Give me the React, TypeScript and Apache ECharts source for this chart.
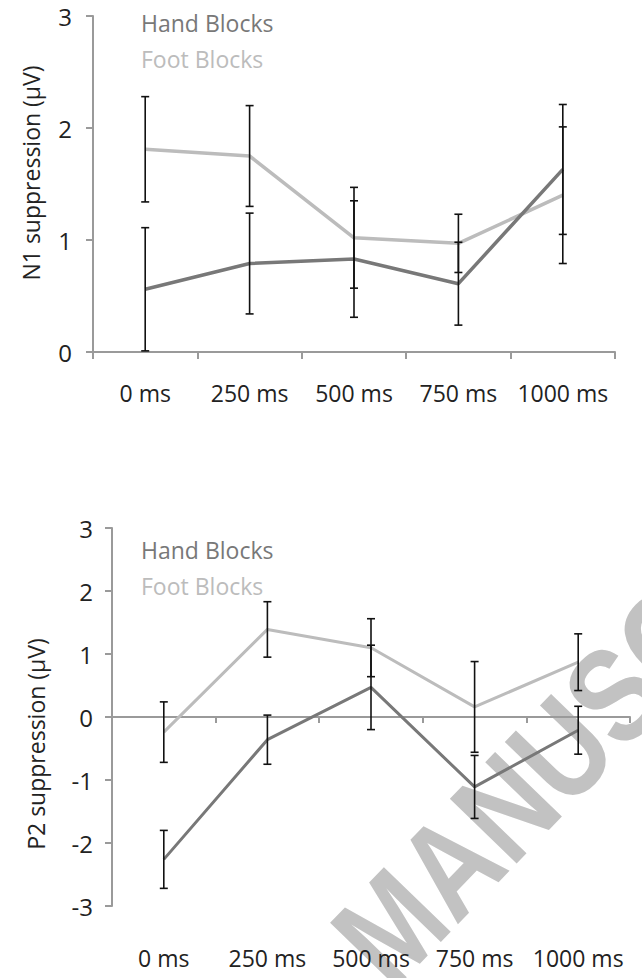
import React, { useEffect, useRef } from "react";
import * as echarts from "echarts";

const categories = ["0 ms", "250 ms", "500 ms", "750 ms", "1000 ms"];

const n1Hand = [0.56, 0.79, 0.83, 0.61, 1.63];
const n1HandErr = [0.55, 0.45, 0.52, 0.37, 0.58];
const n1Foot = [1.81, 1.75, 1.02, 0.97, 1.4];
const n1FootErr = [0.47, 0.45, 0.45, 0.26, 0.61];

const p2Hand = [-2.26, -0.36, 0.47, -1.11, -0.21];
const p2HandErr = [0.46, 0.39, 0.67, 0.5, 0.38];
const p2Foot = [-0.24, 1.39, 1.1, 0.16, 0.87];
const p2FootErr = [0.48, 0.44, 0.46, 0.72, 0.45];

const n1Ticks = [0, 1, 2, 3];
const p2Ticks = [-3, -2, -1, 0, 1, 2, 3];

const HAND = "#787878";
const FOOT = "#bcbcbc";
const AXIS = "#9a9a9a";
const TEXT = "#222222";
const FONT = "'Open Sans', 'Noto Sans', sans-serif";

function errData(vals: number[], errs: number[]) {
  return vals.map((v, i) => [i, v - errs[i], v + errs[i]]);
}

function errorRender(params: any, api: any) {
  const i = api.value(0);
  const lo = api.coord([i, api.value(1)]);
  const hi = api.coord([i, api.value(2)]);
  const w = 4;
  const style = { stroke: "#111111", lineWidth: 1.6 };
  return {
    type: "group",
    children: [
      { type: "line", shape: { x1: lo[0], y1: lo[1], x2: hi[0], y2: hi[1] }, style },
      { type: "line", shape: { x1: lo[0] - w, y1: lo[1], x2: lo[0] + w, y2: lo[1] }, style },
      { type: "line", shape: { x1: hi[0] - w, y1: hi[1], x2: hi[0] + w, y2: hi[1] }, style },
    ],
  };
}

export default function App() {
  const ref = useRef<HTMLDivElement>(null);
  useEffect(() => {
    document.body.style.margin = "0";
    if (!ref.current) return;
    const chart = echarts.init(ref.current, null, { renderer: "svg" });
    const axisLine = { show: true, lineStyle: { color: AXIS, width: 2 } };
    const axisTick = { show: true, length: 7, lineStyle: { color: AXIS, width: 2 } };
    const legendCommon = {
      orient: "vertical",
      left: 136,
      padding: 0,
      icon: "none",
      itemWidth: 0,
      itemHeight: 14,
      itemGap: 13,
      selectedMode: false,
      textStyle: { fontSize: 23, fontFamily: FONT },
    };
    const option: any = {
      animation: false,
      backgroundColor: "#ffffff",
      textStyle: { fontFamily: FONT },
      grid: [
        { left: 93, top: 16, width: 522, height: 336 },
        { left: 112, top: 528, width: 518, height: 378 },
      ],
      legend: [
        {
          ...legendCommon,
          top: 11,
          data: [
            { name: "Hand Blocks", textStyle: { color: HAND } },
            { name: "Foot Blocks", textStyle: { color: FOOT } },
          ],
        },
        {
          ...legendCommon,
          top: 538,
          data: [
            { name: "Hand Blocks", textStyle: { color: HAND } },
            { name: "Foot Blocks", textStyle: { color: FOOT } },
          ],
        },
      ],
      xAxis: [
        {
          type: "category",
          gridIndex: 0,
          data: categories,
          boundaryGap: true,
          axisLine,
          axisTick,
          axisLabel: { interval: 0, margin: 29, fontSize: 23, color: TEXT, fontFamily: FONT },
          splitLine: { show: false },
        },
        {
          type: "category",
          gridIndex: 1,
          data: categories,
          boundaryGap: true,
          position: "bottom",
          axisLine: { ...axisLine, onZero: true },
          axisTick: { ...axisTick, length: 6 },
          axisLabel: { show: false },
          splitLine: { show: false },
        },
        {
          type: "category",
          gridIndex: 1,
          data: categories,
          boundaryGap: true,
          position: "bottom",
          axisLine: { show: false, onZero: false },
          axisTick: { show: false },
          axisLabel: { interval: 0, margin: 40, fontSize: 23, color: TEXT, fontFamily: FONT },
          splitLine: { show: false },
        },
      ],
      yAxis: [
        {
          type: "value",
          gridIndex: 0,
          min: n1Ticks[0],
          max: n1Ticks[n1Ticks.length - 1],
          interval: 1,
          axisLine,
          axisTick,
          axisLabel: { margin: 21, fontSize: 24, color: TEXT, fontFamily: FONT },
          splitLine: { show: false },
        },
        {
          type: "value",
          gridIndex: 1,
          min: p2Ticks[0],
          max: p2Ticks[p2Ticks.length - 1],
          interval: 1,
          axisLine,
          axisTick,
          axisLabel: { margin: 19, fontSize: 24, color: TEXT, fontFamily: FONT },
          splitLine: { show: false },
        },
      ],
      series: [
        {
          name: "Foot Blocks",
          type: "line",
          xAxisIndex: 0,
          yAxisIndex: 0,
          data: n1Foot,
          symbol: "none",
          color: FOOT,
          lineStyle: { color: FOOT, width: 3.5 },
          z: 2,
        },
        {
          name: "Hand Blocks",
          type: "line",
          xAxisIndex: 0,
          yAxisIndex: 0,
          data: n1Hand,
          symbol: "none",
          color: HAND,
          lineStyle: { color: HAND, width: 3.5 },
          z: 3,
        },
        {
          type: "custom",
          xAxisIndex: 0,
          yAxisIndex: 0,
          data: errData(n1Foot, n1FootErr).concat(errData(n1Hand, n1HandErr)),
          renderItem: errorRender,
          z: 4,
        },
        {
          name: "Foot Blocks",
          type: "line",
          xAxisIndex: 1,
          yAxisIndex: 1,
          data: p2Foot,
          symbol: "none",
          color: FOOT,
          lineStyle: { color: FOOT, width: 3 },
          z: 2,
        },
        {
          name: "Hand Blocks",
          type: "line",
          xAxisIndex: 1,
          yAxisIndex: 1,
          data: p2Hand,
          symbol: "none",
          color: HAND,
          lineStyle: { color: HAND, width: 3 },
          z: 3,
        },
        {
          type: "custom",
          xAxisIndex: 1,
          yAxisIndex: 1,
          data: errData(p2Foot, p2FootErr).concat(errData(p2Hand, p2HandErr)),
          renderItem: errorRender,
          z: 4,
        },
      ],
      graphic: [
        {
          type: "text",
          x: 358,
          y: 960,
          rotation: (46 * Math.PI) / 180,
          scaleX: 0.82,
          scaleY: 1,
          z: -10,
          silent: true,
          style: {
            text: "MANUSCRIPT",
            fontSize: 135,
            fontFamily: "'Liberation Sans', Arial, sans-serif",
            fontWeight: "bold",
            fill: "#c2c2c2",
            textAlign: "left",
            textVerticalAlign: "middle",
          },
        },
        {
          type: "text",
          x: 31,
          y: 173,
          rotation: Math.PI / 2,
          style: {
            text: "N1 suppression (μV)",
            fontSize: 23,
            fontFamily: FONT,
            fill: TEXT,
            textAlign: "center",
            textVerticalAlign: "middle",
          },
        },
        {
          type: "text",
          x: 36,
          y: 744,
          rotation: Math.PI / 2,
          style: {
            text: "P2 suppression (μV)",
            fontSize: 23,
            fontFamily: FONT,
            fill: TEXT,
            textAlign: "center",
            textVerticalAlign: "middle",
          },
        },
      ],
    };
    chart.setOption(option);
    return () => chart.dispose();
  }, []);
  return <div ref={ref} style={{ width: 642, height: 978 }} />;
}
